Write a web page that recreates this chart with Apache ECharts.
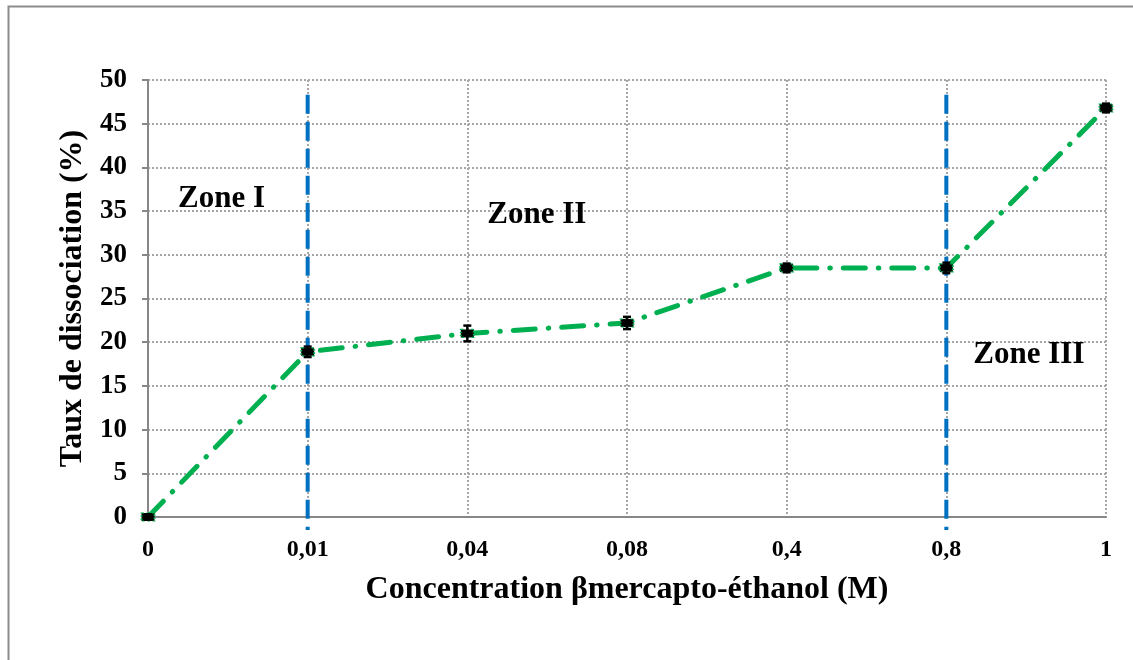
<!DOCTYPE html>
<html>
<head>
<meta charset="utf-8">
<script src="https://cdn.jsdelivr.net/npm/echarts@6/dist/echarts.min.js"></script>
<style>
  html, body { margin: 0; padding: 0; background: #fff; }
  #chart { width: 1133px; height: 660px; }
</style>
</head>
<body>
<div id="chart"></div>
<script>
const categories = ['0', '0,01', '0,04', '0,08', '0,4', '0,8', '1'];
const dissociation = [0, 18.9, 21.0, 22.2, 28.5, 28.5, 46.8];
const errors = [0.3, 0.6, 0.9, 0.7, 0.5, 0.6, 0.5];
const zoneLimits = ['0,01', '0,8'];
const zoneNames = ['Zone I', 'Zone II', 'Zone III'];
const zoneCats = ['0', '0,04', '0,8'];
const zoneY = [36.4, 34.6, 18.5];

const font = '"Liberation Serif", "Times New Roman", serif';
const chart = echarts.init(document.getElementById('chart'));

// vertical dashed separators, drawn as two-point lines
const limitSeries = zoneLimits.map(c => ({
  type: 'line',
  data: [[c, 48.3], [c, -1.5]],
  clip: false,
  symbol: 'none',
  silent: true,
  z: 3,
  lineStyle: { color: '#0070C0', width: 4, type: [19, 8] }
}));

const labelShift = [30, 20, 27];

option = {
  animation: false,
  backgroundColor: '#fff',
  graphic: [{
    type: 'rect',
    shape: { x: 8.5, y: 6.5, width: 1300, height: 800 },
    style: { fill: 'none', stroke: '#8c8c8c', lineWidth: 2 },
    silent: true
  }],
  grid: { left: 148, right: 27, top: 80, bottom: 143 },
  xAxis: {
    type: 'category',
    data: categories,
    boundaryGap: false,
    name: 'Concentration βmercapto-éthanol (M)',
    nameLocation: 'middle',
    nameGap: 57,
    nameTextStyle: { fontFamily: font, fontWeight: 'bold', fontSize: 32, color: '#000' },
    axisLine: { lineStyle: { color: '#878787', width: 2 } },
    axisTick: { show: false },
    axisLabel: { fontFamily: font, fontWeight: 'bold', fontSize: 24, color: '#000', margin: 21 },
    splitLine: { show: true, lineStyle: { color: '#a6a6a6', width: 2, type: [2, 2] } }
  },
  yAxis: {
    type: 'value',
    min: 0,
    max: 50,
    interval: 5,
    name: 'Taux de dissociation (%)',
    nameLocation: 'middle',
    nameGap: 53,
    nameTextStyle: { fontFamily: font, fontWeight: 'bold', fontSize: 32, color: '#000' },
    axisLine: { show: true, lineStyle: { color: '#878787', width: 2 } },
    axisTick: { show: true, length: 6, lineStyle: { color: '#878787', width: 2 } },
    axisLabel: { fontFamily: font, fontWeight: 'bold', fontSize: 27, color: '#000', margin: 21 },
    splitLine: { show: true, lineStyle: { color: '#a6a6a6', width: 2, type: [2, 2] } }
  },
  series: [
    ...limitSeries,
    {
      type: 'line',
      data: dissociation,
      z: 4,
      symbol: 'rect',
      symbolSize: [13, 8],
      itemStyle: { color: '#000', borderColor: '#00B050', borderWidth: 1.5, borderType: [2, 2] },
      lineStyle: { color: '#00B050', width: 5, type: [22, 13, 0.5, 13], cap: 'round' }
    },
    {
      type: 'custom',
      z: 5,
      data: dissociation.map((v, i) => [i, v, errors[i]]),
      renderItem: (params, api) => {
        const x = api.value(0);
        const hi = api.coord([x, api.value(1) + api.value(2)]);
        const lo = api.coord([x, api.value(1) - api.value(2)]);
        const w = 4;
        const st = { stroke: '#000', lineWidth: 2.5 };
        return {
          type: 'group',
          children: [
            { type: 'line', shape: { x1: hi[0], y1: hi[1], x2: lo[0], y2: lo[1] }, style: st },
            { type: 'line', shape: { x1: hi[0] - w, y1: hi[1], x2: hi[0] + w, y2: hi[1] }, style: st },
            { type: 'line', shape: { x1: lo[0] - w, y1: lo[1], x2: lo[0] + w, y2: lo[1] }, style: st }
          ]
        };
      }
    },
    {
      type: 'custom',
      z: 6,
      silent: true,
      data: zoneNames.map((n, i) => [zoneCats[i], zoneY[i], i]),
      renderItem: (params, api) => {
        const i = api.value(2);
        const p = api.coord([api.value(0), api.value(1)]);
        return {
          type: 'text',
          x: p[0] + labelShift[i],
          y: p[1],
          style: {
            text: zoneNames[i],
            fill: '#000',
            font: 'bold 31px ' + font,
            verticalAlign: 'middle',
            align: 'left'
          }
        };
      }
    }
  ]
};
chart.setOption(option);
</script>
</body>
</html>
